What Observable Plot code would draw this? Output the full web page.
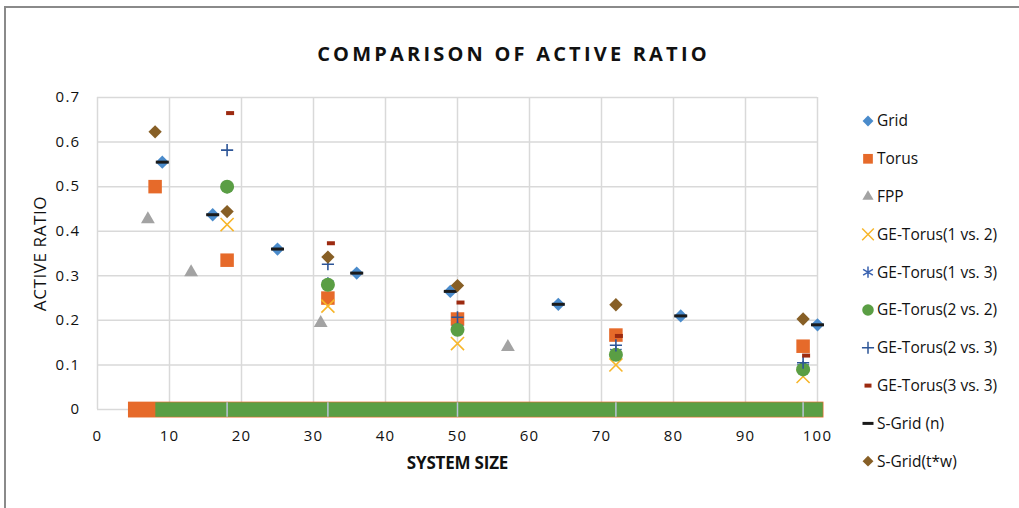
<!DOCTYPE html>
<html><head><meta charset="utf-8">
<script src="https://cdn.jsdelivr.net/npm/d3@7"></script>
<script src="https://cdn.jsdelivr.net/npm/@observablehq/plot@0.6"></script>
<style>
body{margin:0;background:#fff;}
#wrap{position:relative;width:1019px;height:508px;overflow:hidden;font-family:"Open Sans",sans-serif;}
#frame{position:absolute;left:4px;top:6px;width:1100px;height:600px;border-left:2px solid #8a8a8a;border-top:2px solid #8a8a8a;}
#title{position:absolute;top:40px;left:4px;width:1019px;text-align:center;font-weight:bold;font-size:20px;letter-spacing:3.2px;color:#111;}
#chart{position:absolute;left:0;top:0;}
</style></head>
<body><div id="wrap"><div id="frame"></div><div id="chart"></div><div id="title">COMPARISON OF ACTIVE RATIO</div></div>
<script>
// ---- data ----
const xTicks = [0,10,20,30,40,50,60,70,80,90,100];
const yTicks = [0,0.1,0.2,0.3,0.4,0.5,0.6,0.7];

const gridX = [9,16,25,36,49,64,81,100];
const gridY = [0.555,0.437,0.36,0.306,0.265,0.236,0.21,0.19];
const sGridNX = [9,16,25,36,49,64,81,100];
const sGridNY = [0.555,0.437,0.36,0.306,0.265,0.236,0.21,0.19];
const torusX = [8,18,32,50,72,98];
const torusY = [0.5,0.335,0.25,0.203,0.167,0.142];
const fppX = [7,13,31,57];
const fppY = [0.427,0.308,0.194,0.14];
const geX = [18,32,50,72,98];
const ge12Y = [0.415,0.232,0.148,0.1,0.074];
const ge13Y = [0.5,0.282,0.182,0.128,0.094];
const ge22Y = [0.5,0.28,0.179,0.123,0.09];
const ge23Y = [0.582,0.326,0.207,0.144,0.105];
const ge33Y = [0.665,0.373,0.24,0.165,0.121];
const sGridTWX = [8,18,32,50,72,98];
const sGridTWY = [0.623,0.444,0.342,0.278,0.235,0.203];

// zero-valued points that pile up into a band along y = 0
const bandSeries = ["Torus","GE-Torus(2 vs. 2)"];
const bandX1 = [4.3, 8.1];
const bandX2 = [100.9, 100.8];
const bandY1 = [-0.019, -0.0175];
const bandY2 = [0.0165, 0.015];
const bandBreaks = [18,32,50,72,98];

const legendLabels = ["Grid","Torus","FPP","GE-Torus(1 vs. 2)","GE-Torus(1 vs. 3)","GE-Torus(2 vs. 2)","GE-Torus(2 vs. 3)","GE-Torus(3 vs. 3)","S-Grid (n)","S-Grid(t*w)"];

// ---- styles ----
const C = {
  grid:"#4a8bcb", torus:"#e66a2a", fpp:"#a3a3a3", ge12:"#f7b62a", ge13:"#3a62b0",
  ge22:"#5a9e44", ge23:"#2d5597", ge33:"#9c2a10", sgn:"#1a1a1a", sgtw:"#875f26"
};
const dash = (w,h) => ({draw(ctx){ ctx.rect(-w/2,-h/2,w,h); }});
const pts = (xs, ys) => xs.map((x,i) => ({x, y: ys[i]}));
const band = bandSeries.map((s,i) => ({s, x1: bandX1[i], x2: bandX2[i], y1: bandY1[i], y2: bandY2[i]}));

const plot = Plot.plot({
  width: 1019, height: 508,
  marginLeft: 97, marginRight: 202, marginTop: 97, marginBottom: 99,
  x: {domain: [0,100]},
  y: {domain: [0,0.7]},
  style: {fontFamily: "Open Sans, sans-serif", fontSize: "14px", color: "#111", background: "transparent"},
  marks: [
    Plot.gridX(xTicks, {stroke: "#d9d9d9", strokeOpacity: 1, strokeWidth: 1.5}),
    Plot.gridY(yTicks, {stroke: "#d9d9d9", strokeOpacity: 1, strokeWidth: 1.5}),
    Plot.axisX(xTicks, {tickSize: 0, tickPadding: 21, label: null, tickFormat: d => String(d)}),
    Plot.axisY(yTicks, {tickSize: 0, tickPadding: 17, label: null, tickFormat: d => d === 0 ? "0" : d.toFixed(1)}),
    Plot.rect(band, {x1: "x1", x2: "x2", y1: "y1", y2: "y2", fill: d => d.s === "Torus" ? C.torus : C.ge22}),
    Plot.ruleX(bandBreaks, {y1: bandY1[1], y2: bandY2[1], stroke: "#b9c3d6", strokeWidth: 1.5}),
    Plot.dot(pts(gridX, gridY), {x: "x", y: "y", symbol: "diamond2", r: 6, fill: C.grid}),
    Plot.dot(pts(torusX, torusY), {x: "x", y: "y", symbol: "square2", r: 8.6, fill: C.torus}),
    Plot.dot(pts(fppX, fppY), {x: "x", y: "y", symbol: "triangle2", r: 6.6, fill: C.fpp}),
    Plot.dot(pts(geX, ge12Y), {x: "x", y: "y", symbol: "times", r: 6, stroke: C.ge12, strokeWidth: 1.6}),
    Plot.dot(pts(geX, ge13Y), {x: "x", y: "y", symbol: "asterisk", r: 6.2, stroke: C.ge13, strokeWidth: 1.5}),
    Plot.dot(pts(geX, ge22Y), {x: "x", y: "y", symbol: "circle", r: 7, fill: C.ge22}),
    Plot.dot(pts(geX, ge23Y), {x: "x", y: "y", symbol: "plus", r: 4, stroke: C.ge23, strokeWidth: 1.6}),
    Plot.dot(pts(geX, ge33Y), {x: "x", y: "y", symbol: dash(8, 4), fill: C.ge33, dx: 3}),
    Plot.dot(pts(sGridNX, sGridNY), {x: "x", y: "y", symbol: dash(13, 3), fill: C.sgn}),
    Plot.dot(pts(sGridTWX, sGridTWY), {x: "x", y: "y", symbol: "diamond2", r: 6, fill: C.sgtw}),
    Plot.text(["SYSTEM SIZE"], {frameAnchor: "bottom", dy: 59, fontWeight: "bold", fontSize: 17, fill: "#111", textAnchor: "middle"}),
    Plot.text(["ACTIVE RATIO"], {frameAnchor: "left", dx: -57, rotate: -90, fontSize: 17, fill: "#111", textAnchor: "middle"})
  ]
});
document.getElementById("chart").appendChild(plot);

// letter-spacing of tick labels
d3.select(plot).selectAll('g[aria-label="x-axis tick label"] text, g[aria-label="y-axis tick label"] text')
  .style("letter-spacing", "1.3px").style("font-size", "15px");
d3.select(plot).selectAll('g[aria-label="text"] text').filter(function(){return this.textContent==="ACTIVE RATIO";})
  .style("letter-spacing", "0.6px");
d3.select(plot).selectAll('g[aria-label="text"] text').filter(function(){return this.textContent==="SYSTEM SIZE";})
  .style("letter-spacing", "-0.2px");

// ---- legend ----
const legendSym = [
  {t: d3.symbolDiamond2, s: 75, fill: C.grid},
  {t: d3.symbolSquare2, s: 120, fill: C.torus},
  {t: d3.symbolTriangle2, s: 90, fill: C.fpp},
  {t: d3.symbolTimes, s: 90, stroke: C.ge12},
  {t: d3.symbolAsterisk, s: 90, stroke: C.ge13},
  {t: d3.symbolCircle, s: 105, fill: C.ge22},
  {t: d3.symbolPlus, s: 50, stroke: C.ge23},
  {t: dash(7, 4), s: 0, fill: C.ge33},
  {t: dash(11, 3), s: 0, fill: C.sgn},
  {t: d3.symbolDiamond2, s: 75, fill: C.sgtw}
];
const lg = d3.select(plot).append("g").attr("font-family", "Open Sans, sans-serif").attr("font-size", 15.5).attr("text-anchor", "start");
legendLabels.forEach((lab, i) => {
  const y = 121 + i * 37.8;
  const sym = legendSym[i];
  lg.append("path").attr("transform", `translate(868,${y})`)
    .attr("d", d3.symbol(sym.t, sym.s)())
    .attr("fill", sym.fill || "none").attr("stroke", sym.stroke || "none").attr("stroke-width", 1.5);
  lg.append("text").attr("x", 877).attr("y", y).attr("dy", "0.35em").attr("fill", "#111").text(lab);
});
</script>
</body></html>
